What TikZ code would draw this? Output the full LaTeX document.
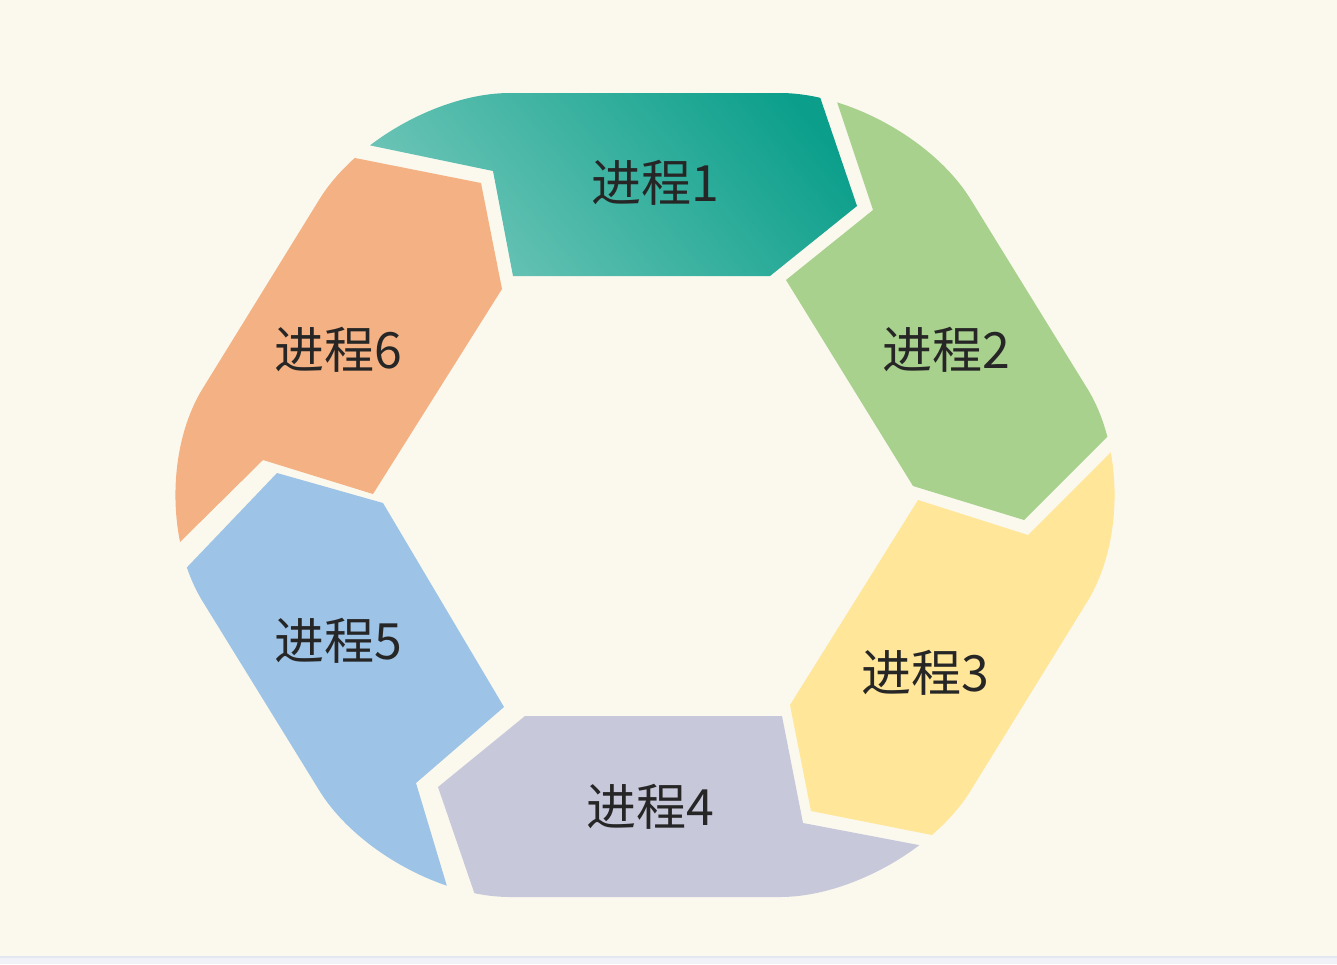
\documentclass[tikz,border=0pt]{standalone}
\usepackage{fontspec}
\newfontfamily\cjk{Noto Sans CJK SC}
\usetikzlibrary{calc}

\definecolor{paper}{HTML}{FBF9EE}
\definecolor{stripline}{RGB}{226,231,241}
\definecolor{strip}{RGB}{240,242,247}
\definecolor{tealdark}{RGB}{11,159,139}
\definecolor{teallight}{RGB}{112,198,184}
\definecolor{greenseg}{HTML}{A9D18E}
\definecolor{yellowseg}{HTML}{FFE699}
\definecolor{lavseg}{RGB}{200,200,219}
\definecolor{blueseg}{HTML}{9DC3E6}
\definecolor{orangeseg}{HTML}{F4B183}
\definecolor{ink}{HTML}{262626}

\begin{document}
\begin{tikzpicture}[x=0.5pt, y=-0.5pt,
  proc/.style = {font=\cjk\fontsize{25}{30}\selectfont, text=ink},
  ring/.style = {rounded corners=62.5pt}]
\useasboundingbox (0,0) rectangle (1337,964);
\fill[paper] (0,0) rectangle (1337,964);
\fill[strip] (0,956) rectangle (1337,964);
\fill[stripline] (0,956) rectangle (1337,958);

% notch side of each segment: outer, point, inner
\coordinate (n1o) at (373,146); \coordinate (n1p) at (493,171); \coordinate (n1i) at (513,276);
\coordinate (n2o) at (837,102); \coordinate (n2p) at (873,210); \coordinate (n2i) at (786,280);
\coordinate (n3o) at (1111,452); \coordinate (n3p) at (1028,535); \coordinate (n3i) at (918,500);
\coordinate (n4o) at (924,846); \coordinate (n4p) at (803,823); \coordinate (n4i) at (782,716);
\coordinate (n5o) at (449,893); \coordinate (n5p) at (416,783); \coordinate (n5i) at (504,707);
\coordinate (n6o) at (180,542); \coordinate (n6p) at (263,460); \coordinate (n6i) at (373,494);
% tip side of each segment: inner, point, outer
\coordinate (t1i) at (770,276); \coordinate (t1p) at (857,206); \coordinate (t1o) at (820,97);
\coordinate (t2i) at (913,486); \coordinate (t2p) at (1024,520); \coordinate (t2o) at (1107,437);
\coordinate (t3i) at (790,705); \coordinate (t3p) at (811,811); \coordinate (t3o) at (932,835);
\coordinate (t4i) at (525,716); \coordinate (t4p) at (438,787); \coordinate (t4o) at (475,895);
\coordinate (t5i) at (383,503); \coordinate (t5p) at (277,473); \coordinate (t5o) at (193,561);
\coordinate (t6i) at (502,289); \coordinate (t6p) at (481,183); \coordinate (t6o) at (360,159);
% far points outside the ring
\coordinate (f1) at (645,-400); \coordinate (f2) at (1338,95); \coordinate (f3) at (1338,895);
\coordinate (f4) at (645,1295); \coordinate (f5) at (-48,895); \coordinate (f6) at (-48,95);

\foreach \k/\col in {2/greenseg, 3/yellowseg, 4/lavseg, 5/blueseg, 6/orangeseg} {
  \begin{scope}
    \clip[ring] (385,93) -- (905,93) -- (1153,495) -- (905,897) -- (385,897) -- (137,495) -- cycle;
    \fill[\col] ($(n\k p)!3!(n\k o)$) -- (n\k p) -- (n\k i) -- (t\k i) -- (t\k p)
      -- ($(t\k p)!3!(t\k o)$) -- (f\k) -- cycle;
  \end{scope}
}

% top segment with gradient
\begin{scope}
  \clip[ring] (385,93) -- (905,93) -- (1153,495) -- (905,897) -- (385,897) -- (137,495) -- cycle;
  \clip ($(n1p)!3!(n1o)$) -- (n1p) -- (n1i) -- (t1i) -- (t1p) -- ($(t1p)!3!(t1o)$) -- (f1) -- cycle;
  \shade[top color=tealdark, bottom color=teallight, shading angle=-50] (360,85) rectangle (880,285);
\end{scope}

\node[proc] (p1) at (655,183) {进程1};
\node[proc] (p2) at (946,350) {进程2};
\node[proc] (p3) at (925,673) {进程3};
\node[proc] (p4) at (650,807) {进程4};
\node[proc] (p5) at (338,641) {进程5};
\node[proc] (p6) at (338,350) {进程6};
\end{tikzpicture}
\end{document}
